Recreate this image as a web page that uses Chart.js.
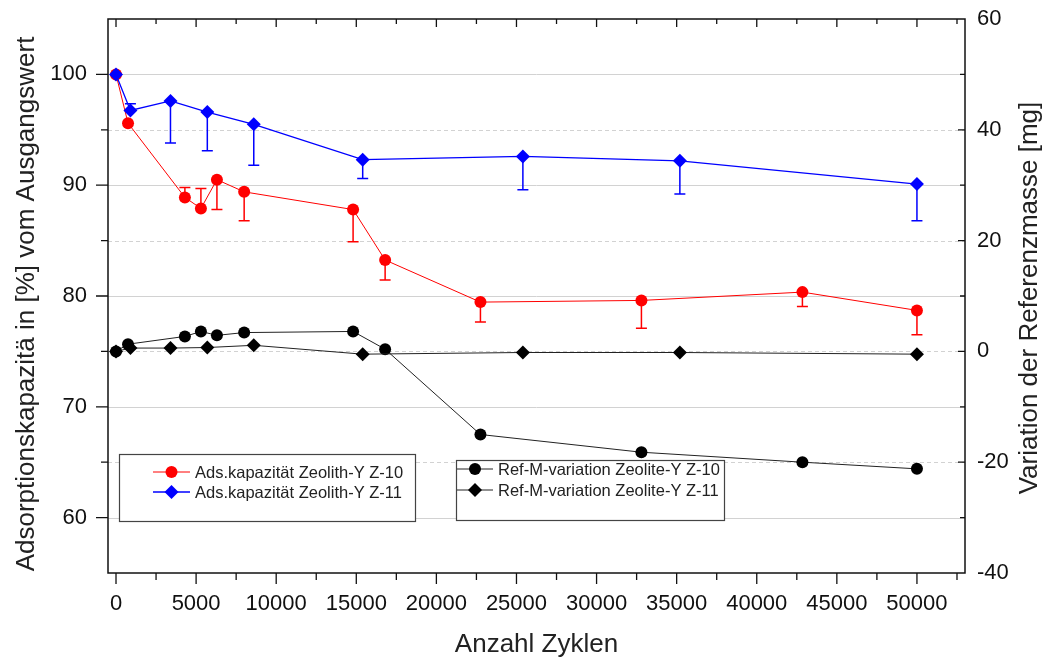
<!DOCTYPE html>
<html>
<head>
<meta charset="utf-8">
<script src="https://cdn.jsdelivr.net/npm/chart.js@4.4.0/dist/chart.umd.min.js"></script>
<style>
  html, body { margin: 0; padding: 0; background: #fff; }
  #wrap { width: 1051px; height: 657px; }
</style>
</head>
<body>
<div id="wrap"><canvas id="myChart" width="1051" height="657"></canvas></div>
<script>
// Zyklen, bei denen gemessen wurde
var cyclesZ10 = [0, 750, 4300, 5300, 6300, 8000, 14800, 16800, 22750, 32800, 42850, 50000];
var cyclesZ11 = [0, 900, 3400, 5700, 8600, 15400, 25400, 35200, 50000];

// Adsorptionskapazitaet in % vom Ausgangswert (linke Achse)
var adsZ10 = [100, 95.6, 88.9, 87.9, 90.5, 89.4, 87.8, 83.25, 79.45, 79.6, 80.35, 78.7];
var adsZ11 = [100, 96.75, 97.6, 96.6, 95.5, 92.3, 92.6, 92.2, 90.1];
// einseitige Fehlerbalken, Vorzeichen = Richtung
var adsZ10Err = [0, 0, 0.9, 1.8, -2.7, -2.6, -2.9, -1.8, -1.8, -2.5, -1.3, -2.2];
var adsZ11Err = [0, 0.6, -3.8, -3.5, -3.7, -1.7, -3.0, -3.0, -3.3];

// Variation der Referenzmasse in mg (rechte Achse)
var refZ10 = [0, 1.3, 2.7, 3.6, 2.9, 3.4, 3.6, 0.4, -15.0, -18.2, -20.0, -21.2];
var refZ11 = [0, 0.6, 0.6, 0.7, 1.1, -0.5, -0.2, -0.2, -0.5];

var xTicks = [0, 5000, 10000, 15000, 20000, 25000, 30000, 35000, 40000, 45000, 50000];
var leftTicks = [60, 70, 80, 90, 100];
var rightTicks = [-40, -20, 0, 20, 40, 60];

var FONT = "'Liberation Sans', Arial, sans-serif";

function pts(xs, ys) {
  return xs.map(function (x, i) { return { x: x, y: ys[i] }; });
}

function marker(ctx, style, x, y, r, color) {
  ctx.fillStyle = color;
  ctx.beginPath();
  if (style === 'circle') {
    ctx.arc(x, y, r, 0, Math.PI * 2);
  } else {
    ctx.moveTo(x - r, y); ctx.lineTo(x, y - r); ctx.lineTo(x + r, y); ctx.lineTo(x, y + r);
    ctx.closePath();
  }
  ctx.fill();
}

function vTitle(ctx, text, x, y) {
  ctx.save();
  ctx.translate(x, y);
  ctx.rotate(-Math.PI / 2);
  ctx.font = '26px ' + FONT;
  ctx.fillStyle = '#222';
  ctx.textAlign = 'center';
  ctx.textBaseline = 'middle';
  ctx.fillText(text, 0, 0);
  ctx.restore();
}

var errBars = { 0: adsZ10Err, 1: adsZ11Err };

var decor = {
  id: 'decor',
  beforeDatasetsDraw: function (chart) {
    var ctx = chart.ctx, a = chart.chartArea, yL = chart.scales.yL;
    ctx.save();
    // horizontale Gitterlinien: durchgezogen bei Hauptticks, gestrichelt dazwischen
    ctx.lineWidth = 1;
    ctx.strokeStyle = '#d2d2d2';
    leftTicks.forEach(function (v) {
      [v, v + 5].forEach(function (g, k) {
        if (g >= 105) return;
        var y = Math.round(yL.getPixelForValue(g)) + 0.5;
        ctx.setLineDash(k === 0 ? [] : [4, 3]);
        ctx.beginPath(); ctx.moveTo(a.left, y); ctx.lineTo(a.right, y); ctx.stroke();
      });
    });
    ctx.setLineDash([]);

    // Fehlerbalken
    Object.keys(errBars).forEach(function (di) {
      var ds = chart.data.datasets[di];
      var meta = chart.getDatasetMeta(di);
      var err = errBars[di];
      ctx.strokeStyle = ds.borderColor;
      ctx.lineWidth = 1.5;
      meta.data.forEach(function (el, j) {
        if (!err[j]) return;
        var yEnd = yL.getPixelForValue(ds.data[j].y + err[j]);
        ctx.beginPath();
        ctx.moveTo(el.x, el.y); ctx.lineTo(el.x, yEnd);
        ctx.moveTo(el.x - 5.5, yEnd); ctx.lineTo(el.x + 5.5, yEnd);
        ctx.stroke();
      });
    });
    ctx.restore();
  },
  afterDraw: function (chart) {
    var ctx = chart.ctx, a = chart.chartArea;
    var x = chart.scales.x, yL = chart.scales.yL, yR = chart.scales.yR;
    ctx.save();
    ctx.strokeStyle = '#111';
    ctx.lineWidth = 1.5;
    ctx.strokeRect(a.left, a.top, a.right - a.left, a.bottom - a.top);

    ctx.lineWidth = 1.3;
    ctx.beginPath();
    // x: unten nach aussen, oben nach innen
    for (var v = 0; v <= 52500; v += 2500) {
      var px = x.getPixelForValue(v), major = v % 5000 === 0;
      ctx.moveTo(px, a.bottom); ctx.lineTo(px, a.bottom + (major ? 11 : 7));
      ctx.moveTo(px, a.top); ctx.lineTo(px, a.top + (major ? 8 : 5));
    }
    // links nach aussen
    for (var l = 60; l <= 100; l += 5) {
      var py = yL.getPixelForValue(l), ll = l % 10 === 0 ? 12 : 7;
      ctx.moveTo(a.left, py); ctx.lineTo(a.left - ll, py);
    }
    // rechts nach innen
    for (var r = -30; r <= 50; r += 10) {
      var pr = yR.getPixelForValue(r), lr = r % 20 === 0 ? 7 : 5;
      ctx.moveTo(a.right, pr); ctx.lineTo(a.right - lr, pr);
    }
    ctx.stroke();

    var mid = (a.top + a.bottom) / 2;
    vTitle(ctx, 'Adsorptionskapazitä in [%] vom Ausgangswert', 27, mid + 8);
    vTitle(ctx, 'Variation der Referenzmasse [mg]', 1030, mid + 2);

    // zwei Legendenkaesten
    var ds = chart.data.datasets;
    drawLegend(ctx, { x: 119, y: 454, w: 296, h: 67, lx0: 153, lx1: 190, tx: 195, y0: 472, dy: 20 }, [ds[0], ds[1]]);
    drawLegend(ctx, { x: 456, y: 460, w: 268, h: 60, lx0: 457, lx1: 493, tx: 498, y0: 469, dy: 21 }, [ds[2], ds[3]]);
    ctx.restore();
  }
};

function drawLegend(ctx, b, items) {
  ctx.fillStyle = '#fff';
  ctx.fillRect(b.x, b.y, b.w, b.h);
  ctx.strokeStyle = '#444';
  ctx.lineWidth = 1.2;
  ctx.strokeRect(b.x + 0.5, b.y + 0.5, b.w, b.h);
  ctx.font = '16.5px ' + FONT;
  ctx.textBaseline = 'middle';
  items.forEach(function (d, i) {
    var y = b.y0 + i * b.dy;
    ctx.strokeStyle = d.borderColor;
    ctx.lineWidth = d.borderWidth;
    ctx.beginPath(); ctx.moveTo(b.lx0, y); ctx.lineTo(b.lx1, y); ctx.stroke();
    marker(ctx, d.pointStyle, (b.lx0 + b.lx1) / 2, y, d.pointStyle === 'circle' ? 6 : 7, d.backgroundColor);
    ctx.fillStyle = '#222';
    ctx.fillText(d.label, b.tx, y + 1);
  });
}

function noPad(s) {
  s.paddingTop = 0; s.paddingBottom = 0; s.paddingLeft = 0; s.paddingRight = 0;
}

var ctx = document.getElementById('myChart').getContext('2d');
var chart = new Chart(ctx, {
  type: 'line',
  data: {
    datasets: [{
      label: 'Ads.kapazität Zeolith-Y Z-10',
      data: pts(cyclesZ10, adsZ10),
      yAxisID: 'yL', order: 2,
      borderColor: '#ff0000', backgroundColor: '#ff0000',
      borderWidth: 1, pointStyle: 'circle', pointRadius: 6, pointBorderWidth: 0
    }, {
      label: 'Ads.kapazität Zeolith-Y Z-11',
      data: pts(cyclesZ11, adsZ11),
      yAxisID: 'yL', order: 0,
      borderColor: '#0000ff', backgroundColor: '#0000ff',
      borderWidth: 1.3, pointStyle: 'rectRot', pointRadius: 7, pointBorderWidth: 0
    }, {
      label: 'Ref-M-variation Zeolite-Y Z-10',
      data: pts(cyclesZ10, refZ10),
      yAxisID: 'yR', order: 3,
      borderColor: '#222', backgroundColor: '#000',
      borderWidth: 1, pointStyle: 'circle', pointRadius: 6, pointBorderWidth: 0
    }, {
      label: 'Ref-M-variation Zeolite-Y Z-11',
      data: pts(cyclesZ11, refZ11),
      yAxisID: 'yR', order: 1,
      borderColor: '#222', backgroundColor: '#000',
      borderWidth: 1, pointStyle: 'rectRot', pointRadius: 7, pointBorderWidth: 0
    }]
  },
  options: {
    responsive: false,
    animation: false,
    layout: { padding: { top: 19, left: 0, right: 0, bottom: 0 } },
    plugins: { legend: { display: false }, tooltip: { enabled: false } },
    scales: {
      x: {
        type: 'linear', min: -500, max: 53000,
        grid: { display: false }, border: { display: false },
        afterBuildTicks: function (s) { s.ticks = xTicks.map(function (v) { return { value: v }; }); },
        afterFit: function (s) { s.height = 84; noPad(s); },
        ticks: { color: '#111', padding: 10, maxRotation: 0, font: { family: FONT, size: 22 },
          callback: function (v) { return String(v); } },
        title: { display: true, text: 'Anzahl Zyklen', color: '#222', font: { family: FONT, size: 26 }, padding: { top: -3, bottom: -3 } }
      },
      yL: {
        type: 'linear', position: 'left', min: 55, max: 105,
        grid: { display: false }, border: { display: false },
        afterBuildTicks: function (s) { s.ticks = leftTicks.map(function (v) { return { value: v }; }); },
        afterFit: function (s) { s.width = 108; noPad(s); },
        ticks: { color: '#111', padding: 13, font: { family: FONT, size: 22 } }
      },
      yR: {
        type: 'linear', position: 'right', min: -40, max: 60,
        grid: { display: false }, border: { display: false },
        afterBuildTicks: function (s) { s.ticks = rightTicks.map(function (v) { return { value: v }; }); },
        afterFit: function (s) { s.width = 86; noPad(s); },
        ticks: { color: '#111', padding: 4, font: { family: FONT, size: 22 } }
      }
    }
  },
  plugins: [decor]
});
</script>
</body>
</html>
